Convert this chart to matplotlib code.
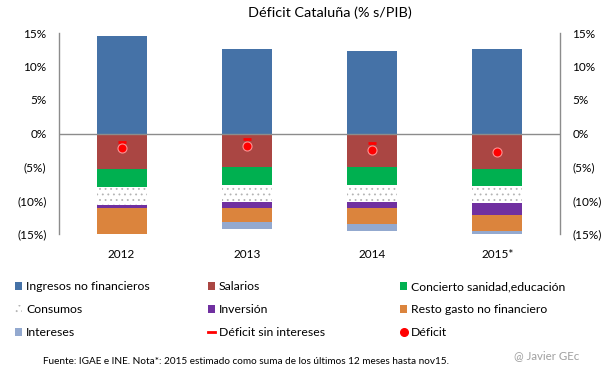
import numpy as np
import matplotlib
matplotlib.use('Agg')
import matplotlib.pyplot as plt
from matplotlib.patches import Patch
from matplotlib.lines import Line2D
from matplotlib.ticker import FuncFormatter

plt.rcParams['font.family'] = ['Lato', 'DejaVu Sans']
plt.rcParams['hatch.linewidth'] = 0.6

years = ['2012', '2013', '2014', '2015*']
ingresos = [14.6, 12.6, 12.3, 12.6]
salarios = [5.27, 5.07, 5.07, 5.27]
concierto = [2.68, 2.63, 2.63, 2.58]
consumos = [2.68, 2.50, 2.50, 2.49]
inversion = [0.44, 0.87, 0.87, 1.76]
resto = [4.80, 2.20, 2.49, 2.44]
intereses = [0.90, 0.97, 0.98, 0.60]
deficit = [-2.15, -1.85, -2.44, -2.73]
deficit_sin = [-1.22, -0.78, -1.37, np.nan]

c_ing = '#4572A7'
c_sal = '#AA4643'
c_con = '#00B050'
c_inv = '#7030A0'
c_res = '#DB843D'
c_int = '#93A9CF'

fig = plt.figure(figsize=(6.05, 3.78), dpi=100)
ax = fig.add_axes([59/605, 1-234/378, (560-59)/605, (234-33)/378])

x = np.arange(len(years))
w = 0.4
ax.bar(x, ingresos, w, color=c_ing, zorder=2)

gastos = [(salarios, c_sal, None), (concierto, c_con, None), (consumos, 'white', '...'),
          (inversion, c_inv, None), (resto, c_res, None), (intereses, c_int, None)]
bottom = np.zeros(len(years))
for vals, col, hat in gastos:
    v = -np.array(vals)
    if hat:
        ax.bar(x, v, w, bottom=bottom, color=col, hatch=hat, edgecolor='#b4b4b4', lw=0, zorder=2)
    else:
        ax.bar(x, v, w, bottom=bottom, color=col, lw=0, zorder=2)
    bottom = bottom + v

ax.plot(x, deficit_sin, ls='none', marker='_', ms=6, mew=2, color='#FF0000', zorder=4)
ax.plot(x, deficit, ls='none', marker='o', ms=6.5, mfc='#FF0000', mec='#FF9090', mew=0.8, zorder=5)

ax.axhline(0, color='#8c8c8c', lw=1, zorder=3)
ax.set_xlim(-0.5, 3.5)
ax.set_ylim(-15, 15)
ax.set_yticks([-15, -10, -5, 0, 5, 10, 15])
ax.yaxis.set_major_formatter(FuncFormatter(
    lambda v, p: '%d%%' % v if v >= 0 else '(%d%%)' % -v))
ax.set_xticks(x)
ax.set_xticklabels(years)
ax.tick_params(axis='y', length=0, pad=9, labelsize=8.5, labelright=True, right=False)
ax.tick_params(axis='x', length=0, pad=11, labelsize=8.5)
for s in ['top', 'bottom']:
    ax.spines[s].set_visible(False)
for s in ['left', 'right']:
    ax.spines[s].set_color('#8c8c8c')
    ax.spines[s].set_linewidth(1)

fig.text(330/605, 1-13/378, u'Déficit Cataluña (% s/PIB)', ha='center', va='center', fontsize=10.4)

def sq(c, h=None):
    return Patch(facecolor=c, edgecolor='#b4b4b4' if h else c, hatch=h, lw=0)

cols = [
    [(sq(c_ing), 'Ingresos no financieros'), (sq('white', '...'), 'Consumos'), (sq(c_int), 'Intereses')],
    [(sq(c_sal), 'Salarios'), (sq(c_inv), u'Inversión'),
     (Line2D([], [], color='#FF0000', lw=2), u'Déficit sin intereses')],
    [(sq(c_con), u'Concierto sanidad,educación'), (sq(c_res), 'Resto gasto no financiero'),
     (Line2D([], [], ls='none', marker='o', ms=5.5, mfc='#FF0000', mec='#FF0000'), u'Déficit')],
]
xs = [15, 208, 400]
for xp, col in zip(xs, cols):
    leg = fig.legend([h for h, l in col], [l for h, l in col], loc='upper left',
                     bbox_to_anchor=(xp/605, 1-281/378), frameon=False, fontsize=8.85,
                     handlelength=0.6, handleheight=0.6, handletextpad=0.3,
                     labelspacing=0.98, borderaxespad=0, borderpad=0)

fig.text(43/605, 1-362/378, u'Fuente: IGAE e INE. Nota*: 2015 estimado como suma de los últimos 12 meses hasta nov15.',
         ha='left', va='center', fontsize=7.2)
fig.text(579/605, 1-356/378, '@ Javier GEc', ha='right', va='center', fontsize=8.3, color='#a0a0a0')

fig.savefig('out.png', dpi=100)
